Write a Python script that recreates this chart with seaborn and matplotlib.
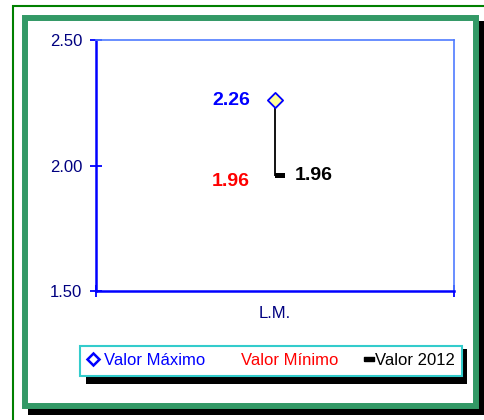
import numpy as np
import pandas as pd
import matplotlib
matplotlib.use("Agg")
import matplotlib.pyplot as plt
from matplotlib.patches import Rectangle
from matplotlib.lines import Line2D
import seaborn as sns

# datos
categorias = ["L.M."]
valor_maximo = [2.26]
valor_minimo = [1.96]
valor_2012 = [1.96]
y_ticks = [1.50, 2.00, 2.50]

sns.set_style("white")
plt.rcParams['font.family'] = ['Liberation Sans', 'DejaVu Sans']

W, H = 484, 420
fig = plt.figure(figsize=(W / 100, H / 100), dpi=100)

def fx(px):
    return px / W

def fy(py):
    return 1 - py / H

# marcos del grafico (estilo excel)
fig.add_artist(Rectangle((fx(13), fy(430)), fx(490) - fx(13), fy(6) - fy(430),
                         transform=fig.transFigure, fill=False, edgecolor='#008000', lw=1.5, zorder=0))
fig.add_artist(Rectangle((fx(28), fy(415)), fx(484) - fx(28), fy(21) - fy(415),
                         transform=fig.transFigure, facecolor='black', edgecolor='none', zorder=0))
fig.add_artist(Rectangle((fx(25), fy(406)), fx(476) - fx(25), fy(18) - fy(406),
                         transform=fig.transFigure, facecolor='white', edgecolor='#339966', lw=4.3, zorder=0))

ax = fig.add_axes([fx(96), fy(291), fx(454) - fx(96), fy(40) - fy(291)])
ax.set_facecolor('none')

df = pd.DataFrame({"cat": categorias, "max": valor_maximo,
                   "min": valor_minimo, "v2012": valor_2012})

# linea max-min
ax.vlines(np.arange(len(categorias)), df["min"], df["max"], color='black', lw=1.3, zorder=2)

# marcador valor 2012 (guion desplazado a la derecha)
dash = [(0, -0.2), (1, -0.2), (1, 0.2), (0, 0.2), (0, -0.2)]
sns.scatterplot(data=df, x="cat", y="v2012", marker=dash, s=220, color='black',
                edgecolor='none', ax=ax, zorder=3, legend=False)
# marcador valor maximo
sns.scatterplot(data=df, x="cat", y="max", marker='D', s=60, color='#ffff99',
                edgecolor='#0000ff', linewidth=1.3, ax=ax, zorder=4, legend=False)

for i, row in df.iterrows():
    ax.annotate(f"{row['max']:.2f}", (i, row["max"]), xytext=(-18, 0), textcoords='offset points',
                ha='right', va='center', color='#0000ff', fontsize=14, fontweight='bold')
    ax.annotate(f"{row['min']:.2f}", (i, row["min"]), xytext=(-18, -4), textcoords='offset points',
                ha='right', va='center', color='#ff0000', fontsize=14, fontweight='bold')
    ax.annotate(f"{row['v2012']:.2f}", (i, row["v2012"]), xytext=(14, 0), textcoords='offset points',
                ha='left', va='center', color='black', fontsize=14, fontweight='bold')

ax.set_xlim(-0.5, 0.5)
ax.set_ylim(1.5, 2.5)
ax.set_yticks(y_ticks)
ax.set_yticklabels([f"{v:.2f}" for v in y_ticks])
ax.set_xticks([-0.5, 0.5])
ax.set_xticklabels(["", ""])
ax.set_xlabel("")
ax.set_ylabel("")
ax.text(0, -0.09, categorias[0], transform=ax.get_xaxis_transform(), ha='center', va='center',
        color='#000080', fontsize=12)
ax.tick_params(axis='y', left=True, colors='#000080', labelsize=12, direction='inout',
               length=8, width=1.3, pad=6)
ax.tick_params(axis='y', color='#0000ff')
ax.tick_params(axis='x', bottom=True, color='#0000ff', direction='inout', length=8, width=1.3)
for s in ['left', 'bottom']:
    ax.spines[s].set_color('#0000ff')
    ax.spines[s].set_linewidth(1.8)
for s in ['top', 'right']:
    ax.spines[s].set_visible(True)
    ax.spines[s].set_color('#4f7bff')
    ax.spines[s].set_linewidth(1.2)

# leyenda
fig.add_artist(Rectangle((fx(86), fy(384)), fx(467) - fx(86), fy(349) - fy(384),
                         transform=fig.transFigure, facecolor='black', edgecolor='none', zorder=5))
handles = [Line2D([], [], marker='D', ls='none', markerfacecolor='white', markeredgecolor='#0000ff',
                  markeredgewidth=1.8, markersize=6),
           Line2D([], [], ls='none'),
           Line2D([], [], marker=dash, ls='none', color='black', markersize=14)]
labels = ["Valor Máximo", "Valor Mínimo", "Valor 2012"]
leg = fig.legend(handles, labels, loc='center',
                 bbox_to_anchor=(fx(80), fy(378), fx(462) - fx(80), fy(343) - fy(378)),
                 mode='expand', ncol=3, fontsize=12, frameon=True, fancybox=False,
                 edgecolor='#33cccc', handlelength=0.7, handletextpad=0.3, borderaxespad=0,
                 borderpad=0.45, columnspacing=0.8)
leg.set_zorder(6)
leg.get_frame().set_linewidth(1.5)
leg.get_frame().set_alpha(1)
for t, c in zip(leg.get_texts(), ['#0000ff', '#ff0000', 'black']):
    t.set_color(c)

fig.savefig("out.png", dpi=100)
